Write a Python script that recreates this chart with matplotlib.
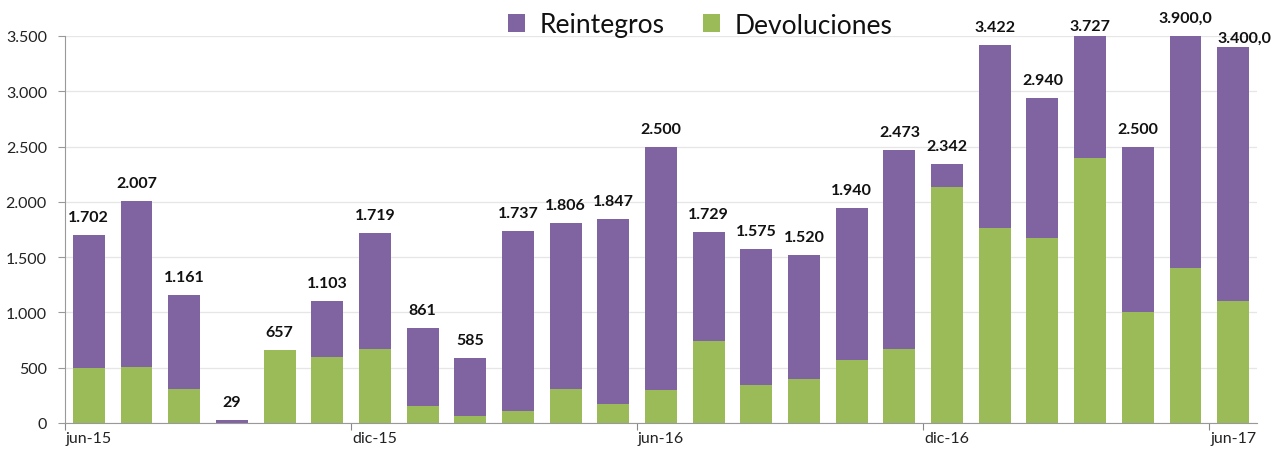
import matplotlib
matplotlib.use("Agg")
import matplotlib.pyplot as plt
import numpy as np

months = ["jun-15", "jul-15", "ago-15", "sep-15", "oct-15", "nov-15", "dic-15",
          "ene-16", "feb-16", "mar-16", "abr-16", "may-16", "jun-16", "jul-16",
          "ago-16", "sep-16", "oct-16", "nov-16", "dic-16", "ene-17", "feb-17",
          "mar-17", "abr-17", "may-17", "jun-17"]
devoluciones = [500, 505, 310, 0, 657, 600, 670, 150, 65, 110, 310, 170, 300,
                740, 340, 400, 570, 670, 2130, 1760, 1670, 2400, 1000, 1400, 1100]
reintegros = [1202, 1502, 851, 29, 0, 503, 1049, 711, 520, 1627, 1496, 1677, 2200,
              989, 1235, 1120, 1370, 1803, 212, 1662, 1270, 1327, 1500, 2500, 2300]
total_labels = ["1.702", "2.007", "1.161", "29", "657", "1.103", "1.719", "861",
                "585", "1.737", "1.806", "1.847", "2.500", "1.729", "1.575",
                "1.520", "1.940", "2.473", "2.342", "3.422", "2.940", "3.727",
                "2.500", "3.900,0", "3.400,0"]
yticks = [0, 500, 1000, 1500, 2000, 2500, 3000, 3500]
ytick_labels = ["0", "500", "1.000", "1.500", "2.000", "2.500", "3.000", "3.500"]
shown_months = [0, 6, 12, 18, 24]

PURPLE = "#8064A2"
GREEN = "#9BBB59"
plt.rcParams["font.family"] = ["Lato", "DejaVu Sans"]

fig = plt.figure(figsize=(12.79, 4.56), dpi=100)
ax = fig.add_axes([65 / 1279, 32 / 456, (1257 - 65) / 1279, (424 - 37) / 456])

x = np.arange(len(months))
dev = np.array(devoluciones)
rei = np.array(reintegros)
b1 = ax.bar(x, dev, width=0.67, color=GREEN, zorder=2, label="Devoluciones")
b2 = ax.bar(x, rei, bottom=dev, width=0.67, color=PURPLE, zorder=2, label="Reintegros")

ymax = 3500
ax.set_xlim(-0.5, len(months) - 0.5)
ax.set_ylim(0, ymax)

totals = dev + rei
label_shift = {21: (0, -6), 24: (8, -6)}
for i, (t, lab) in enumerate(zip(totals, total_labels)):
    top = min(t, ymax)
    dx, dy = label_shift.get(i, (0, 0))
    ax.annotate(lab, xy=(x[i], top), xytext=(dx, 13 + dy), textcoords="offset points",
                ha="center", va="center", fontsize=11.5, fontweight="bold",
                color="#111111", annotation_clip=False)

ax.set_yticks(yticks)
ax.set_yticklabels(ytick_labels)
ax.yaxis.grid(True, color="#E6E6E6", linewidth=0.9, zorder=0)
ax.set_axisbelow(True)

# major ticks at boundaries, labels centered on months
ax.set_xticks([i - 0.5 for i in shown_months])
ax.set_xticklabels([])
ax.set_xticks(shown_months, minor=True)
ax.set_xticklabels([months[i] for i in shown_months], minor=True)
ax.tick_params(axis="x", which="minor", length=0, pad=6, labelsize=11.5, labelcolor="#222222")
ax.tick_params(axis="x", which="major", length=5, color="#888888", direction="out")
ax.tick_params(axis="y", length=5, color="#999999", labelsize=11.5, labelcolor="#222222", pad=8)

for s in ["top", "right"]:
    ax.spines[s].set_visible(False)
ax.spines["left"].set_color("#999999")
ax.spines["bottom"].set_color("#999999")

fig.legend(handles=[b2, b1], labels=["Reintegros", "Devoluciones"], loc="center",
           bbox_to_anchor=(700 / 1279, 1 - 26 / 456), ncol=2, frameon=False,
           fontsize=19, handlelength=0.65, handleheight=0.65, handletextpad=0.55,
           columnspacing=1.45, labelcolor="#111111")

fig.savefig("out.png", dpi=100)
